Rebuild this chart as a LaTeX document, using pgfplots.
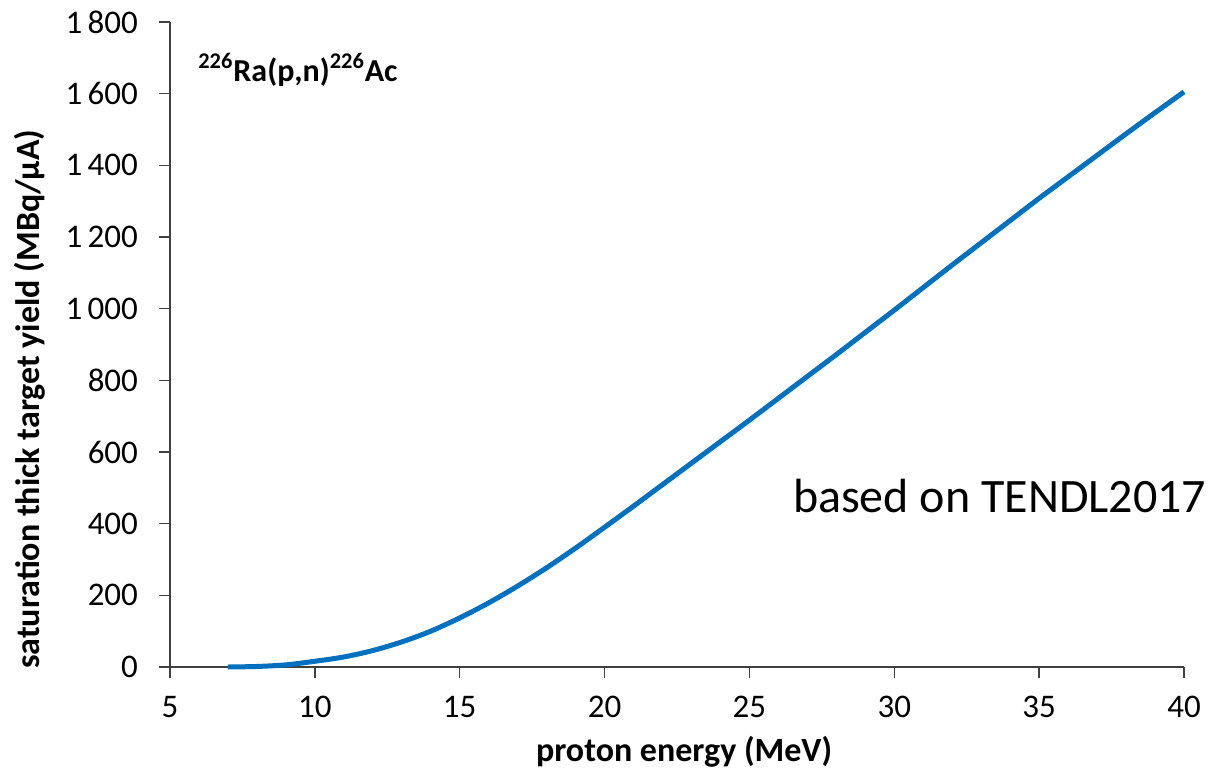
\documentclass[border=0pt]{standalone}
\usepackage{fontspec}
\setmainfont{Carlito}
\usepackage{pgfplots}
\pgfplotsset{compat=1.18}
\definecolor{xlblue}{RGB}{0,112,192}
\definecolor{axgray}{RGB}{64,64,64}

\begin{document}
\begin{tikzpicture}
% page = 1208 x 772 px at 0.5pt per px, axis box lower left at origin
\path[use as bounding box] (-85pt,-52.35pt) rectangle (519pt,333.5pt);
\begin{axis}[
  at={(0pt,0pt)}, anchor=south west,
  scale only axis, width=507pt, height=322.5pt,
  xmin=5, xmax=40, ymin=0, ymax=1800,
  xtick={5,10,...,40}, ytick={0,200,...,1800},
  axis lines=left, axis line style={-, axgray, line width=0.75pt},
  tick align=outside, major tick length=5.5pt,
  every tick/.style={axgray, line width=0.75pt},
  /pgf/number format/assume math mode=true,
  /pgf/number format/1000 sep={\,},
  tick label style={font=\fontsize{16.5}{19}\selectfont},
  xticklabel style={yshift=-5.5pt},
  yticklabel style={xshift=-7pt},
  xlabel={proton energy (MeV)},
  ylabel={saturation thick target yield (MBq/μA)},
  every axis x label/.style={at={(axis description cs:0.507,-0.131)}, anchor=center,
    font=\fontsize{17}{20}\selectfont\bfseries},
  every axis y label/.style={at={(axis description cs:-0.138,0.415)}, anchor=center, rotate=90,
    font=\fontsize{17}{20}\selectfont\bfseries},
  clip=false,
]
\addplot[xlblue, line width=2.5pt, smooth] coordinates {
  (7,0) (8,1.5) (9,6) (10,16) (11,28) (12,46) (13,70) (14,100) (15,137)
  (16,179) (17,226) (18,277) (19,332) (20,390) (21,449) (22,509) (23,569)
  (24,629) (25,689) (26,750) (27,811) (28,872) (29,934) (30,996) (31,1059)
  (32,1122) (33,1184) (34,1246) (35,1308) (36,1368) (37,1428) (38,1488)
  (39,1547) (40,1605)
};
\node[anchor=base west, inner sep=0pt, font=\fontsize{16}{19}\selectfont\bfseries]
  at (rel axis cs:0.0276,0.908) {\textsuperscript{226}Ra(p,n)\textsuperscript{226}Ac};
\node[anchor=base west, inner sep=0pt, font=\fontsize{24}{28}\selectfont]
  at (rel axis cs:0.614,0.239) {based on TENDL2017};
\end{axis}
\end{tikzpicture}
\end{document}
